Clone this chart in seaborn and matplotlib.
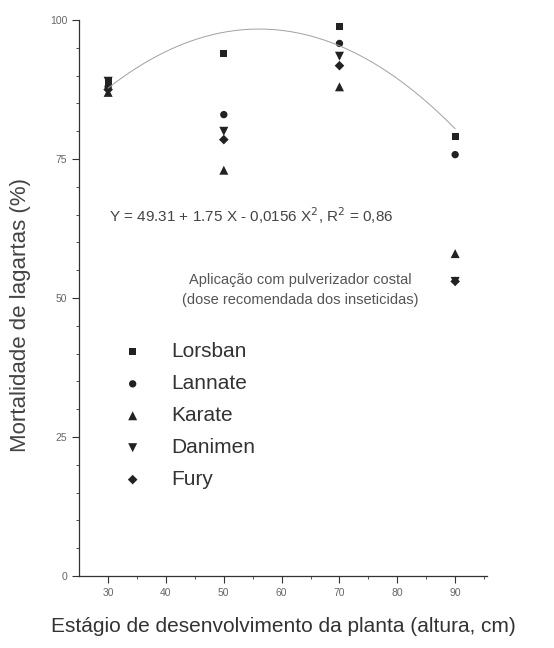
import numpy as np
import pandas as pd
import matplotlib
matplotlib.use("Agg")
import matplotlib.pyplot as plt
import seaborn as sns

# plant height (cm) and mortality (%) per insecticide
alturas = [30, 50, 70, 90]
lorsban = [89.0, 94.0, 98.8, 79.0]
lannate = [88.0, 83.0, 95.8, 75.8]
karate = [87.0, 73.0, 88.0, 58.0]
danimen = [89.0, 80.0, 93.5, 53.0]
fury = [87.5, 78.5, 91.8, 53.0]
inseticidas = ["Lorsban", "Lannate", "Karate", "Danimen", "Fury"]

series = [lorsban, lannate, karate, danimen, fury]
df = pd.DataFrame({
    "altura": alturas * len(inseticidas),
    "mortalidade": sum(series, []),
    "inseticida": [n for n in inseticidas for _ in alturas],
})

sns.set_style("white")
plt.rcParams["font.family"] = ["Liberation Sans", "DejaVu Sans"]

fig = plt.figure(figsize=(5.54, 6.48), dpi=100)
ax = fig.add_axes([0.143, 0.111, 0.736, 0.858])

# fitted quadratic
xf = np.linspace(30, 90, 200)
yf = 49.31 + 1.75 * xf - 0.0156 * xf ** 2
ax.plot(xf, yf, color="#a0a0a0", lw=0.7)

marcadores = {"Lorsban": "s", "Lannate": "o", "Karate": "^", "Danimen": "v", "Fury": "D"}
tamanhos = {"Lorsban": 26, "Lannate": 28, "Karate": 42, "Danimen": 42, "Fury": 24}
for nome in inseticidas:
    sub = df[df["inseticida"] == nome]
    sns.scatterplot(data=sub, x="altura", y="mortalidade", marker=marcadores[nome],
                    s=tamanhos[nome], color="#222222", edgecolor="none",
                    ax=ax, label=nome)

ax.set_xlim(25, 95.5)
ax.set_ylim(0, 100)
ax.set_xticks([30, 40, 50, 60, 70, 80, 90])
ax.set_xticks([35, 45, 55, 65, 75, 85, 95], minor=True)
ax.set_yticks([0, 25, 50, 75, 100])
ax.set_yticks(np.arange(5, 100, 5), minor=True)
ax.tick_params(axis="both", which="major", direction="out", length=5, width=0.8,
               labelsize=7.5, labelcolor="#666666", color="#333333")
ax.tick_params(axis="both", which="minor", direction="out", length=2.5, width=0.6,
               color="#333333")
ax.tick_params(axis="x", which="both", bottom=True)
ax.tick_params(axis="y", which="both", left=True)
for s in ["top", "right"]:
    ax.spines[s].set_visible(False)
for s in ["left", "bottom"]:
    ax.spines[s].set_color("#333333")
    ax.spines[s].set_linewidth(0.9)

ax.set_xlabel("Estágio de desenvolvimento da planta (altura, cm)", fontsize=15,
              color="#333333", labelpad=14)
ax.set_ylabel("Mortalidade de lagartas (%)", fontsize=16, color="#444444")
ax.yaxis.set_label_coords(-0.118, 0.469)

ax.text(30.2, 64.9, r"Y = 49.31 + 1.75 X - 0,0156 X$^2$, R$^2$ = 0,86", fontsize=11,
        color="#444444", va="center")
ax.text(63.3, 53.3, "Aplicação com pulverizador costal", fontsize=10.5, color="#555555",
        ha="center", va="center")
ax.text(63.3, 49.6, "(dose recomendada dos inseticidas)", fontsize=10.5, color="#555555",
        ha="center", va="center")

leg = ax.legend(loc="upper left", bbox_to_anchor=(0.034, 0.454), frameon=False,
                fontsize=15, labelspacing=0.62, handletextpad=0.85, markerscale=1.0)
for t in leg.get_texts():
    t.set_color("#333333")

fig.savefig("out.png", dpi=100)
